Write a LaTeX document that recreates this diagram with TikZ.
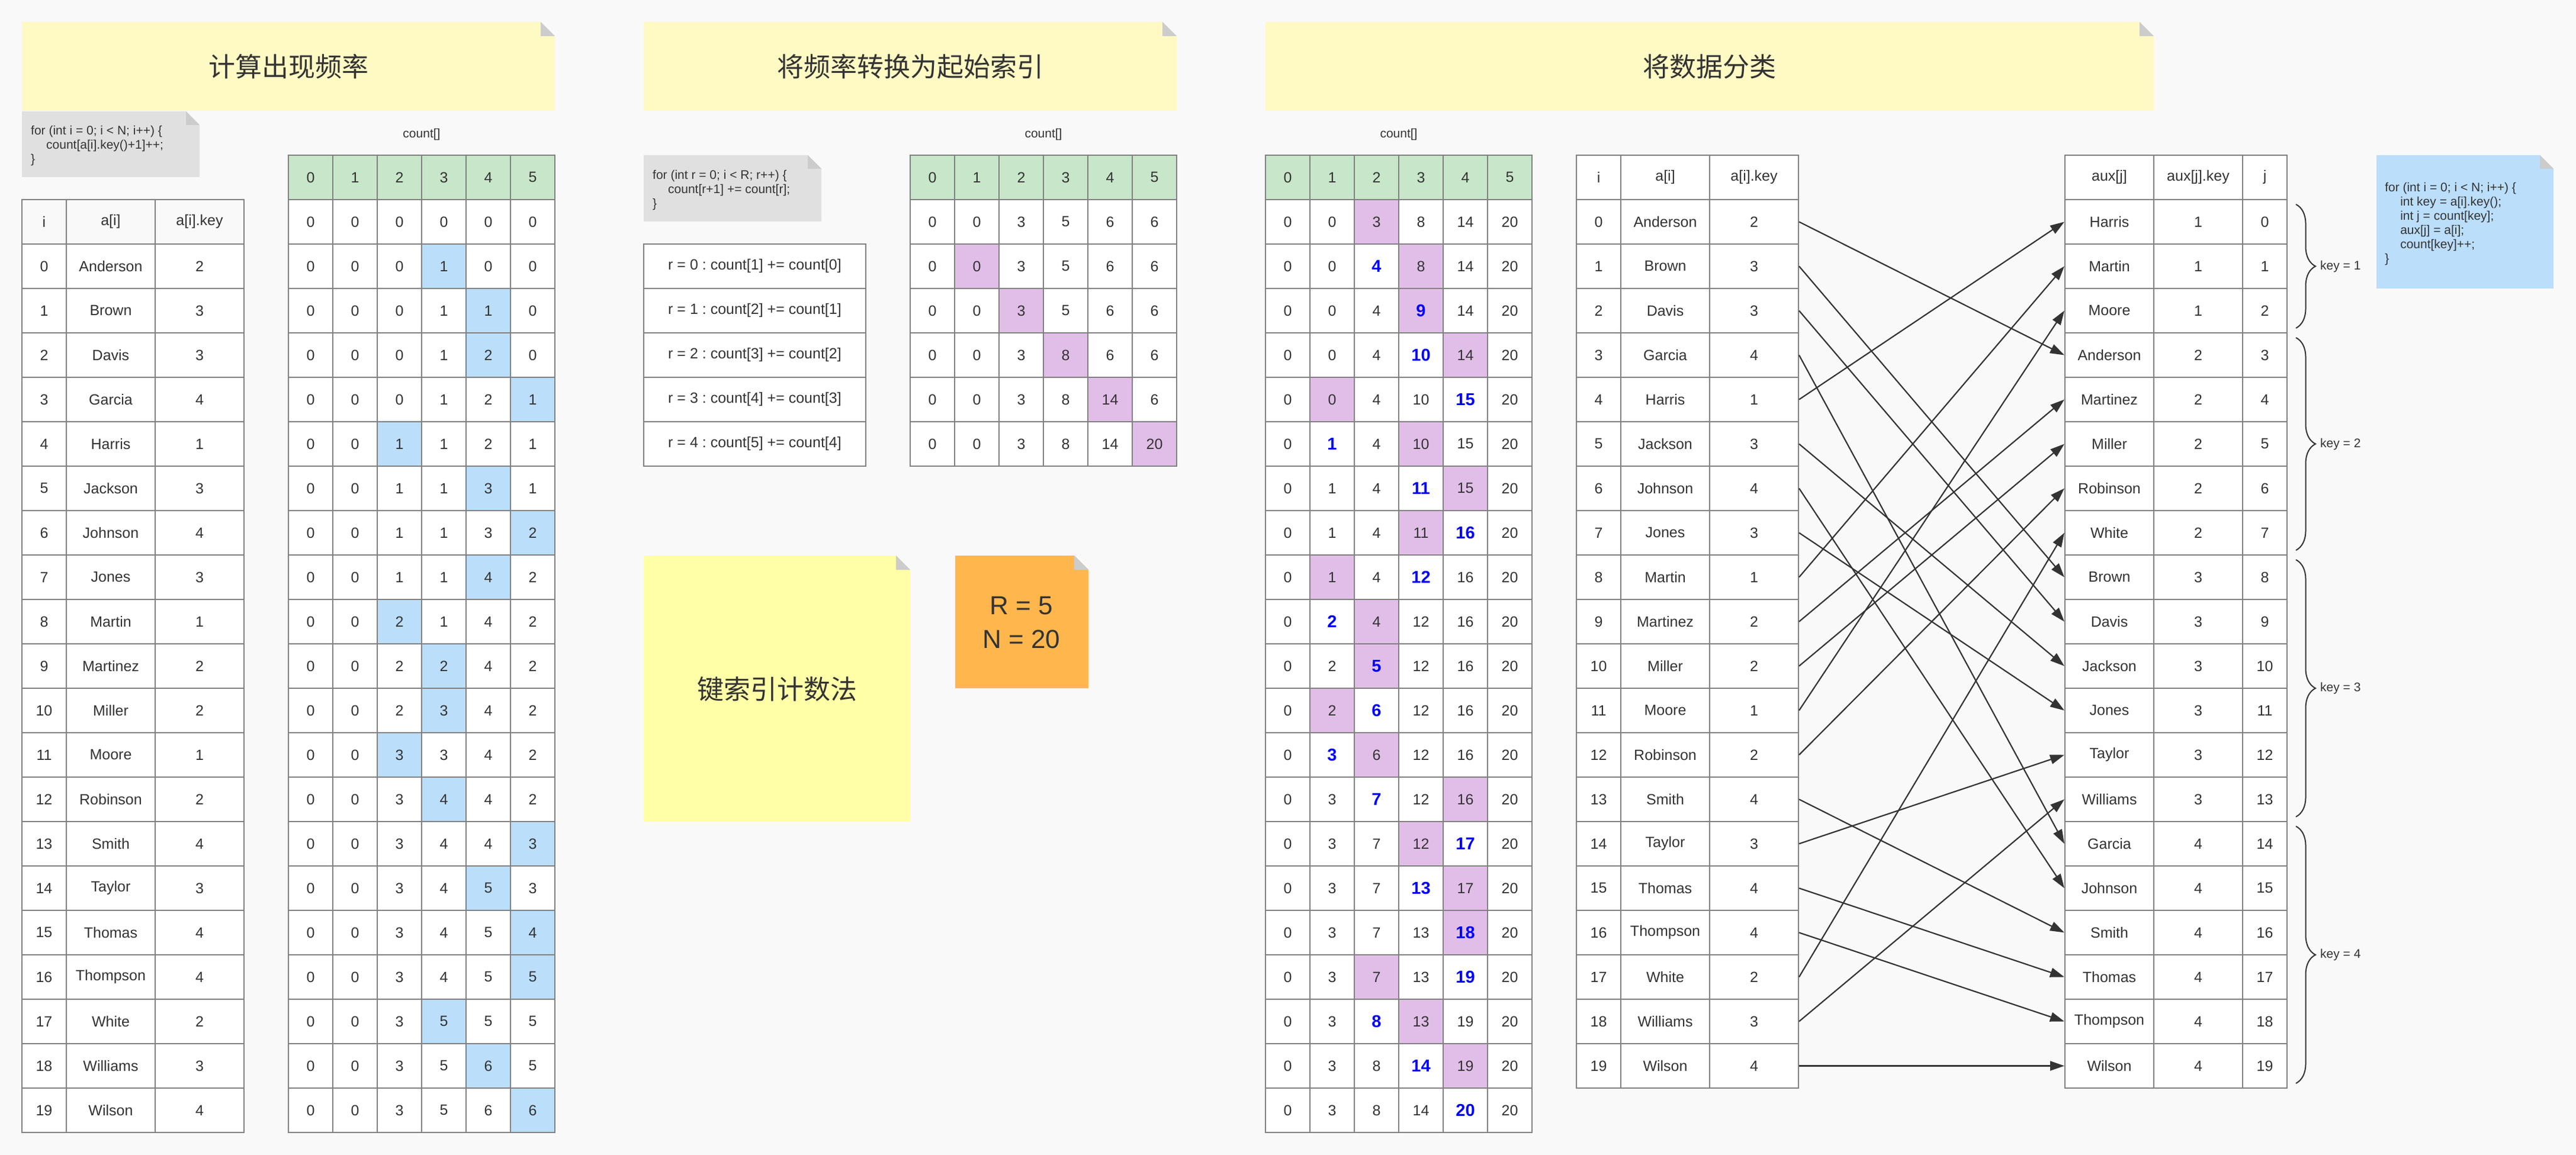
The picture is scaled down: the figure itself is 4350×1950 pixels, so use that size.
\documentclass[tikz,border=0pt]{standalone}
\usepackage{fontspec}
\setmainfont{Liberation Sans}
\newfontfamily\cjk{Noto Sans CJK SC}
\usetikzlibrary{arrows.meta,decorations.pathreplacing}
\frenchspacing
\definecolor{bg}{HTML}{F9F9F9}
\definecolor{ink}{HTML}{333333}
\definecolor{grid}{HTML}{808080}
\definecolor{titley}{HTML}{FFF9C4}
\definecolor{notey}{HTML}{FFFFA8}
\definecolor{noteo}{HTML}{FFB74D}
\definecolor{noteb}{HTML}{BBDEFB}
\definecolor{noteg}{HTML}{E0E0E0}
\definecolor{foldc}{HTML}{CCCCCC}
\definecolor{hdr}{HTML}{C8E6C9}
\definecolor{hlp}{HTML}{E1BEE7}
\definecolor{hlb}{HTML}{BBDEFB}
\definecolor{vblue}{HTML}{0000FF}
\newcommand\tblfont{\fontsize{25}{30}\selectfont}
\newcommand\codefont{\fontsize{21}{24}\selectfont}
\newcommand\bigcjk{\cjk\fontsize{45}{50}\selectfont}
\newcommand\mynote[6]{%
  \fill[#5] (#1,#2) -- ({#3-#6},#2) -- (#3,{#2+#6}) -- (#3,#4) -- (#1,#4) -- cycle;
  \fill[foldc] ({#3-#6},#2) -- ({#3-#6},{#2+#6}) -- (#3,{#2+#6}) -- cycle;}
\newcommand\adata{0/Anderson/2/3, 1/Brown/3/8, 2/Davis/3/9, 3/Garcia/4/14, 4/Harris/1/0, 5/Jackson/3/10, 6/Johnson/4/15, 7/Jones/3/11, 8/Martin/1/1, 9/Martinez/2/4, 10/Miller/2/5, 11/Moore/1/2, 12/Robinson/2/6, 13/Smith/4/16, 14/Taylor/3/12, 15/Thomas/4/17, 16/Thompson/4/18, 17/White/2/7, 18/Williams/3/13, 19/Wilson/4/19}
\begin{document}
\begin{tikzpicture}[x=1pt, y=-1pt,
  cell/.style={draw=grid, line width=2pt, minimum width=75pt, minimum height=75pt, inner sep=0pt, font=\tblfont, text=ink},
  wcell/.style={cell, minimum width=150pt},
  rcell/.style={cell, minimum width=375pt},
  codetxt/.style={font=\codefont, text=ink, align=left, anchor=north west, inner sep=0pt},
  lbl/.style={font=\codefont, text=ink, inner sep=0pt},
  ttl/.style={font=\bigcjk, text=ink, inner sep=0pt},
  arr/.style={draw=ink, line width=2.2pt, -{Triangle[length=24pt,width=16pt]}},
  brc/.style={draw=ink, line width=2pt, decorate, decoration={brace, amplitude=33pt}}]
\useasboundingbox (0,0) rectangle (4350,1950);
\fill[bg] (0,0) rectangle (4350,1950);

% ---------- section 1 ----------
\mynote{37}{37}{937}{187}{titley}{24}
\node[ttl] (t1) at (487,112) {计算出现频率};
\mynote{37}{188}{337}{299}{noteg}{23}
\node[codetxt] (code1) at (52,212) {for (int i = 0; i < N; i++) \{\\\hspace*{26pt}count[a[i].key()+1]++;\\\}};
\node[lbl] (cl1) at (712,227) {count[]};
% table a
\node[cell] (a1h-0) at (74.5,374.5) {i};
\node[wcell] (a1h-1) at (187,374.5) {a[i]};
\node[wcell] (a1h-2) at (337,374.5) {a[i].key};
\foreach \ii/\nm/\kk/\jj in \adata {
  \node[cell, fill=white] (a1-\ii-0) at (74.5,{449.5+75*\ii}) {\ii};
  \node[wcell, fill=white] (a1-\ii-1) at (187,{449.5+75*\ii}) {\nm};
  \node[wcell, fill=white] (a1-\ii-2) at (337,{449.5+75*\ii}) {\kk};
}
% count table 1
\foreach \cc in {0,...,5} {
  \node[cell, fill=hdr] (k1h-\cc) at ({524.5+75*\cc},299.5) {\cc};
}
\foreach \rr/\vals/\hl in {0/{0,0,0,0,0,0}/-1, 1/{0,0,0,1,0,0}/3, 2/{0,0,0,1,1,0}/4, 3/{0,0,0,1,2,0}/4, 4/{0,0,0,1,2,1}/5, 5/{0,0,1,1,2,1}/2, 6/{0,0,1,1,3,1}/4, 7/{0,0,1,1,3,2}/5, 8/{0,0,1,1,4,2}/4, 9/{0,0,2,1,4,2}/2, 10/{0,0,2,2,4,2}/3, 11/{0,0,2,3,4,2}/3, 12/{0,0,3,3,4,2}/2, 13/{0,0,3,4,4,2}/3, 14/{0,0,3,4,4,3}/5, 15/{0,0,3,4,5,3}/4, 16/{0,0,3,4,5,4}/5, 17/{0,0,3,4,5,5}/5, 18/{0,0,3,5,5,5}/3, 19/{0,0,3,5,6,5}/4, 20/{0,0,3,5,6,6}/5} {
  \foreach \vv [count=\cc from 0] in \vals {
    \ifnum\cc=\hl\relax\def\cf{hlb}\else\def\cf{white}\fi
    \node[cell, fill=\cf] (k1-\rr-\cc) at ({524.5+75*\cc},{374.5+75*\rr}) {\vv};
  }
}

% ---------- section 2 ----------
\mynote{1087}{37}{1987}{187}{titley}{24}
\node[ttl] (t2) at (1537,112) {将频率转换为起始索引};
\mynote{1087}{262}{1387}{374}{noteg}{23}
\node[codetxt] (code2) at (1102,287) {for (int r = 0; i < R; r++) \{\\\hspace*{26pt}count[r+1] += count[r];\\\}};
\node[lbl] (cl2) at (1762,227) {count[]};
\foreach \rr [evaluate=\rr as \rn using int(\rr+1)] in {0,...,4} {
  \node[rcell, fill=white] (rt-\rr) at (1274.5,{449.5+75*\rr}) {r = \rr\ : count[\rn] += count[\rr]};
}
\foreach \cc in {0,...,5} {
  \node[cell, fill=hdr] (k2h-\cc) at ({1574.5+75*\cc},299.5) {\cc};
}
\foreach \rr/\vals/\hl in {0/{0,0,3,5,6,6}/-1, 1/{0,0,3,5,6,6}/1, 2/{0,0,3,5,6,6}/2, 3/{0,0,3,8,6,6}/3, 4/{0,0,3,8,14,6}/4, 5/{0,0,3,8,14,20}/5} {
  \foreach \vv [count=\cc from 0] in \vals {
    \ifnum\cc=\hl\relax\def\cf{hlp}\else\def\cf{white}\fi
    \node[cell, fill=\cf] (k2-\rr-\cc) at ({1574.5+75*\cc},{374.5+75*\rr}) {\vv};
  }
}
\mynote{1087}{938}{1537}{1387}{notey}{24}
\node[ttl] (method) at (1312,1163) {键索引计数法};
\mynote{1613}{938}{1838}{1162}{noteo}{24}
\node[font=\fontsize{44}{57}\selectfont, text=ink, align=center, inner sep=0pt] (rn) at (1725,1051) {R = 5\\N = 20};

% ---------- section 3 ----------
\mynote{2137}{37}{3637}{187}{titley}{24}
\node[ttl] (t3) at (2887,112) {将数据分类};
\node[lbl] (cl3) at (2362,227) {count[]};
\foreach \cc in {0,...,5} {
  \node[cell, fill=hdr] (k3h-\cc) at ({2174.5+75*\cc},299.5) {\cc};
}
\foreach \rr/\vals/\pp/\bb in {1/{0,0,3,8,14,20}/2/-1, 2/{0,0,4,8,14,20}/3/2, 3/{0,0,4,9,14,20}/3/3, 4/{0,0,4,10,14,20}/4/3, 5/{0,0,4,10,15,20}/1/4, 6/{0,1,4,10,15,20}/3/1, 7/{0,1,4,11,15,20}/4/3, 8/{0,1,4,11,16,20}/3/4, 9/{0,1,4,12,16,20}/1/3, 10/{0,2,4,12,16,20}/2/1, 11/{0,2,5,12,16,20}/2/2, 12/{0,2,6,12,16,20}/1/2, 13/{0,3,6,12,16,20}/2/1, 14/{0,3,7,12,16,20}/4/2, 15/{0,3,7,12,17,20}/3/4, 16/{0,3,7,13,17,20}/4/3, 17/{0,3,7,13,18,20}/4/4, 18/{0,3,7,13,19,20}/2/4, 19/{0,3,8,13,19,20}/3/2, 20/{0,3,8,14,19,20}/4/3, 21/{0,3,8,14,20,20}/-1/4} {
  \foreach \vv [count=\cc from 0] in \vals {
    \ifnum\cc=\pp\relax\def\cf{hlp}\else\def\cf{white}\fi
    \ifnum\cc=\bb\relax\def\tf{\bfseries\fontsize{29}{32}\selectfont\color{vblue}}\else\def\tf{}\fi
    \node[cell, fill=\cf] (k3-\rr-\cc) at ({2174.5+75*\cc},{299.5+75*\rr}) {\tf\vv};
  }
}
% table a (section 3)
\node[cell, fill=white] (a3h-0) at (2699.5,299.5) {i};
\node[wcell, fill=white] (a3h-1) at (2812,299.5) {a[i]};
\node[wcell, fill=white] (a3h-2) at (2962,299.5) {a[i].key};
\foreach \ii/\nm/\kk/\jj in \adata {
  \node[cell, fill=white] (a3-\ii-0) at (2699.5,{374.5+75*\ii}) {\ii};
  \node[wcell, fill=white] (a3-\ii-1) at (2812,{374.5+75*\ii}) {\nm};
  \node[wcell, fill=white] (a3-\ii-2) at (2962,{374.5+75*\ii}) {\kk};
}
% aux table
\node[wcell, fill=white] (xh-0) at (3562,299.5) {aux[j]};
\node[wcell, fill=white] (xh-1) at (3712,299.5) {aux[j].key};
\node[cell, fill=white] (xh-2) at (3824.5,299.5) {j};
\foreach \jj/\nm/\kk in {0/Harris/1, 1/Martin/1, 2/Moore/1, 3/Anderson/2, 4/Martinez/2, 5/Miller/2, 6/Robinson/2, 7/White/2, 8/Brown/3, 9/Davis/3, 10/Jackson/3, 11/Jones/3, 12/Taylor/3, 13/Williams/3, 14/Garcia/4, 15/Johnson/4, 16/Smith/4, 17/Thomas/4, 18/Thompson/4, 19/Wilson/4} {
  \node[wcell, fill=white] (x-\jj-0) at (3562,{374.5+75*\jj}) {\nm};
  \node[wcell, fill=white] (x-\jj-1) at (3712,{374.5+75*\jj}) {\kk};
  \node[cell, fill=white] (x-\jj-2) at (3824.5,{374.5+75*\jj}) {\jj};
}
% arrows
\foreach \ii/\nm/\kk/\jj in \adata {
  \draw[arr] (a3-\ii-2.east) -- (x-\jj-0.west);
}
% braces
\coordinate (bt1) at (3877,345);  \coordinate (bb1) at (3877,554);
\coordinate (bt2) at (3877,570);  \coordinate (bb2) at (3877,929);
\coordinate (bt3) at (3877,945);  \coordinate (bb3) at (3877,1379);
\coordinate (bt4) at (3877,1395); \coordinate (bb4) at (3877,1829);
\draw[brc] (bt1) -- (bb1);
\draw[brc] (bt2) -- (bb2);
\draw[brc] (bt3) -- (bb3);
\draw[brc] (bt4) -- (bb4);
\node[lbl, anchor=west] (kl1) at (3918,450) {key = 1};
\node[lbl, anchor=west] (kl2) at (3918,750) {key = 2};
\node[lbl, anchor=west] (kl3) at (3918,1162) {key = 3};
\node[lbl, anchor=west] (kl4) at (3918,1612) {key = 4};
% blue code note
\mynote{4013}{262}{4312}{487}{noteb}{23}
\node[codetxt] (code3) at (4027,308) {for (int i = 0; i < N; i++) \{\\\hspace*{26pt}int key = a[i].key();\\\hspace*{26pt}int j = count[key];\\\hspace*{26pt}aux[j] = a[i];\\\hspace*{26pt}count[key]++;\\\}};
\end{tikzpicture}
\end{document}
